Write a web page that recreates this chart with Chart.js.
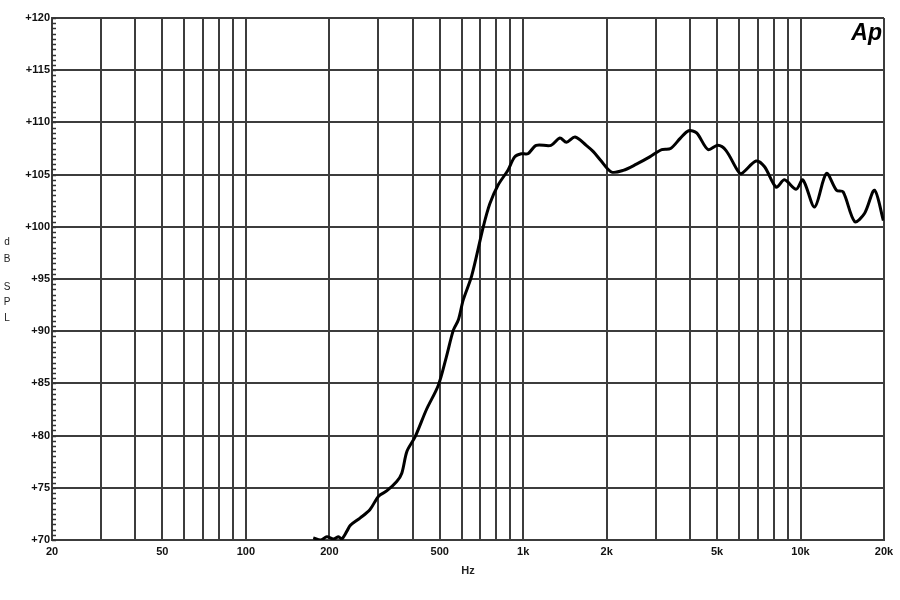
<!DOCTYPE html>
<html>
<head>
<meta charset="utf-8">
<script src="https://cdn.jsdelivr.net/npm/chart.js@4/dist/chart.umd.min.js"></script>
<style>
  html, body { margin: 0; padding: 0; background: #fff; }
  #wrap { width: 900px; height: 600px; }
</style>
</head>
<body>
<div id="wrap"><canvas id="splChart"></canvas></div>
<script>
// Frequency response (Hz, dB SPL)
const freqHz = [175, 186, 196, 207, 216, 222, 232, 238, 258, 280, 301, 322, 350, 365, 381, 408,
  448, 494, 528, 560, 584, 608, 652, 718, 758, 812, 880, 932, 984, 1040, 1114, 1260,
  1356, 1432, 1538, 1688, 1790, 1898, 2080, 2294, 2560, 2860, 3160, 3400, 3690, 3950, 4220, 4640,
  5030, 5390, 5930, 6120, 6920, 7420, 8170, 8750, 9640, 10200, 11240, 12400, 13480, 14240, 15680, 17030,
  18480, 19900];
const splDb = [70.2, 70.0, 70.3, 70.1, 70.3, 70.1, 70.9, 71.4, 72.1, 72.9, 74.2, 74.7, 75.6, 76.4, 78.5, 79.9,
  82.5, 84.8, 87.5, 90.1, 91.1, 93.0, 95.3, 100.0, 102.2, 104.0, 105.4, 106.7, 107.0, 107.0, 107.8, 107.8,
  108.5, 108.1, 108.6, 107.8, 107.2, 106.4, 105.25, 105.4, 106.0, 106.7, 107.4, 107.5, 108.5, 109.2, 109.0, 107.4,
  107.8, 107.3, 105.4, 105.1, 106.3, 105.75, 103.8, 104.5, 103.6, 104.5, 101.9, 105.1, 103.5, 103.35, 100.5, 101.3,
  103.5, 100.6];

// Vertical grid lines and which of them get a label
const gridHz = [20, 30, 40, 50, 60, 70, 80, 90, 100, 200, 300, 400, 500, 600, 700, 800, 900, 1000,
  2000, 3000, 4000, 5000, 6000, 7000, 8000, 9000, 10000, 20000];
const xLabels = { 20: "20", 50: "50", 100: "100", 200: "200", 500: "500", 1000: "1k",
  2000: "2k", 5000: "5k", 10000: "10k", 20000: "20k" };
const yLabelTitle = ["d", "B", "S", "P", "L"];

const gridColor = "#3c3c3c";
const tickFont = { family: "'Liberation Sans Narrow', 'Liberation Sans', Arial, sans-serif", size: 11, weight: "bold" };

// White background, minor y ticks, and the extra captions
const extras = {
  id: "extras",
  beforeDraw(chart) {
    const c = chart.ctx;
    c.save();
    c.fillStyle = "#fff";
    c.fillRect(0, 0, chart.width, chart.height);
    c.restore();
  },
  afterDraw(chart) {
    const c = chart.ctx;
    const y = chart.scales.y;
    const area = chart.chartArea;
    c.save();
    // minor ticks every 0.5 dB along the left axis
    c.strokeStyle = "#333";
    c.lineWidth = 1.5;
    for (let v = 70; v <= 120; v += 0.5) {
      const py = Math.round(y.getPixelForValue(v)) + 0.5;
      c.beginPath();
      c.moveTo(area.left, py);
      c.lineTo(area.left + 4, py);
      c.stroke();
    }
    // stacked y title
    c.fillStyle = "#222";
    c.font = "10px 'Liberation Sans', Arial, sans-serif";
    c.textAlign = "center";
    c.textBaseline = "middle";
    const ys = [242, 259, 287, 302, 318];
    yLabelTitle.forEach((ch, i) => c.fillText(ch, 7, ys[i]));
    // x title
    c.font = "bold 11px 'Liberation Sans Narrow', 'Liberation Sans', Arial, sans-serif";
    c.fillText("Hz", 468, 571);
    // logo
    c.fillStyle = "#000";
    c.font = "italic bold 23px 'Liberation Sans', Arial, sans-serif";
    c.textAlign = "right";
    c.textBaseline = "alphabetic";
    c.fillText("Ap", 882, 40);
    c.restore();
  }
};

let ctx = document.getElementById("splChart").getContext("2d");
let splChart = new Chart(ctx, {
  type: "line",
  data: {
    datasets: [{
      label: "dB SPL",
      data: freqHz.map((f, i) => ({ x: f, y: splDb[i] })),
      borderColor: "#000",
      borderWidth: 3,
      pointRadius: 0,
      tension: 0.3,
      fill: false,
    }],
  },
  options: {
    responsive: true,
    maintainAspectRatio: false,
    animation: false,
    layout: { padding: { top: 18, right: 16, bottom: 0, left: 0 } },
    plugins: {
      legend: { display: false },
      tooltip: { enabled: false },
    },
    scales: {
      x: {
        type: "logarithmic",
        min: 20,
        max: 20000,
        afterBuildTicks: (axis) => { axis.ticks = gridHz.map(v => ({ value: v })); },
        afterFit: (axis) => { axis.height = 60; },
        grid: { color: gridColor, lineWidth: 2, tickLength: 0 },
        border: { color: gridColor, width: 2 },
        ticks: {
          autoSkip: false,
          maxRotation: 0,
          padding: 5,
          color: "#111",
          font: tickFont,
          callback: (value) => xLabels[value] || "",
        },
      },
      y: {
        min: 70,
        max: 120,
        afterFit: (axis) => { axis.width = 52; },
        grid: { color: gridColor, lineWidth: 2, tickLength: 0 },
        border: { color: gridColor, width: 2 },
        ticks: {
          stepSize: 5,
          padding: 2,
          color: "#111",
          font: tickFont,
          callback: (value) => "+" + value,
        },
      },
    },
  },
  plugins: [extras],
});
</script>
</body>
</html>
